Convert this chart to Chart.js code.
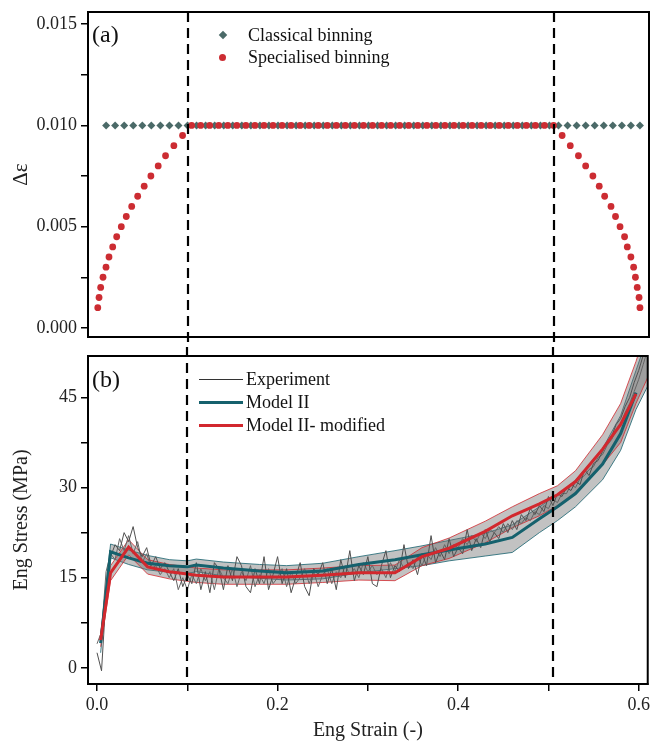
<!DOCTYPE html>
<html>
<head>
<meta charset="utf-8">
<script src="https://cdn.jsdelivr.net/npm/chart.js@4.4.0/dist/chart.umd.min.js"></script>
<style>
  body { margin: 0; background: #fff; }
  #wrap { position: relative; width: 653px; height: 744px; font-family: 'Liberation Serif', 'Times New Roman', serif; color: #111; }
  #chartTop { position: absolute; left: 0; top: 0; }
  #chartBottom { position: absolute; left: 0; top: 347px; }
  .panel { position: absolute; font-size: 24px; line-height: 24px; }
  .leg { position: absolute; font-size: 18px; line-height: 22px; white-space: nowrap; }
  .dia { position: absolute; width: 6px; height: 6px; background: #4b6a68; transform: rotate(45deg); }
  .dot { position: absolute; width: 7px; height: 7px; border-radius: 50%; background: #cc2c32; }
  .ln { position: absolute; width: 44px; }
</style>
</head>
<body>
<div id="wrap">
  <canvas id="chartTop" width="653" height="347"></canvas>
  <canvas id="chartBottom" width="653" height="397"></canvas>

  <div class="panel" style="left:92px; top:22px;">(a)</div>
  <div class="dia" style="left:220px; top:32px;"></div>
  <div class="leg" style="left:248px; top:24px;">Classical binning</div>
  <div class="dot" style="left:219px; top:54px;"></div>
  <div class="leg" style="left:248px; top:46px;">Specialised binning</div>

  <div class="panel" style="left:92px; top:367px;">(b)</div>
  <div class="ln" style="left:199px; top:379px; border-top:1px solid #333;"></div>
  <div class="leg" style="left:246px; top:368px;">Experiment</div>
  <div class="ln" style="left:199px; top:401px; border-top:3px solid #15616d;"></div>
  <div class="leg" style="left:246px; top:391px;">Model II</div>
  <div class="ln" style="left:199px; top:424px; border-top:3px solid #d2282e;"></div>
  <div class="leg" style="left:246px; top:414px;">Model II- modified</div>
</div>

<script>
// panel (a): bin widths
const classicalStrain = [0.01, 0.02, 0.03, 0.04, 0.05, 0.06, 0.07, 0.08, 0.09, 0.10,
  0.11, 0.12, 0.13, 0.14, 0.15, 0.16, 0.17, 0.18, 0.19, 0.20,
  0.21, 0.22, 0.23, 0.24, 0.25, 0.26, 0.27, 0.28, 0.29, 0.30,
  0.31, 0.32, 0.33, 0.34, 0.35, 0.36, 0.37, 0.38, 0.39, 0.40,
  0.41, 0.42, 0.43, 0.44, 0.45, 0.46, 0.47, 0.48, 0.49, 0.50,
  0.51, 0.52, 0.53, 0.54, 0.55, 0.56, 0.57, 0.58, 0.59, 0.60];
const classicalDelta = [0.01, 0.01, 0.01, 0.01, 0.01, 0.01, 0.01, 0.01, 0.01, 0.01,
  0.01, 0.01, 0.01, 0.01, 0.01, 0.01, 0.01, 0.01, 0.01, 0.01,
  0.01, 0.01, 0.01, 0.01, 0.01, 0.01, 0.01, 0.01, 0.01, 0.01,
  0.01, 0.01, 0.01, 0.01, 0.01, 0.01, 0.01, 0.01, 0.01, 0.01,
  0.01, 0.01, 0.01, 0.01, 0.01, 0.01, 0.01, 0.01, 0.01, 0.01,
  0.01, 0.01, 0.01, 0.01, 0.01, 0.01, 0.01, 0.01, 0.01, 0.01];

const specialisedStrain = [0.0008, 0.0022, 0.004, 0.0066, 0.0099, 0.0132, 0.0173, 0.0217, 0.0268,
  0.0323, 0.0383, 0.0449, 0.0521, 0.0595, 0.0676, 0.0757, 0.0849, 0.0945,
  0.1045, 0.1145, 0.1245, 0.1345, 0.1445, 0.1545, 0.1645, 0.1745, 0.1845, 0.1945,
  0.2045, 0.2145, 0.2245, 0.2345, 0.2445, 0.2545, 0.2645, 0.2745, 0.2845, 0.2945,
  0.3045, 0.3145, 0.3245, 0.3345, 0.3445, 0.3545, 0.3645, 0.3745, 0.3845, 0.3945,
  0.4045, 0.4145, 0.4245, 0.4345, 0.4445, 0.4545, 0.4645, 0.4745, 0.4845, 0.4945, 0.5045,
  0.514, 0.523, 0.532, 0.540, 0.548, 0.555, 0.561, 0.568, 0.573,
  0.578, 0.583, 0.586, 0.590, 0.593, 0.595, 0.597, 0.599, 0.600];
const specialisedDelta = [0.001, 0.0015, 0.002, 0.0025, 0.003, 0.0035, 0.004, 0.0045, 0.005,
  0.0055, 0.006, 0.0065, 0.007, 0.0075, 0.008, 0.0085, 0.009, 0.0095,
  0.01, 0.01, 0.01, 0.01, 0.01, 0.01, 0.01, 0.01, 0.01, 0.01,
  0.01, 0.01, 0.01, 0.01, 0.01, 0.01, 0.01, 0.01, 0.01, 0.01,
  0.01, 0.01, 0.01, 0.01, 0.01, 0.01, 0.01, 0.01, 0.01, 0.01,
  0.01, 0.01, 0.01, 0.01, 0.01, 0.01, 0.01, 0.01, 0.01, 0.01, 0.01,
  0.0095, 0.009, 0.0085, 0.008, 0.0075, 0.007, 0.0065, 0.006, 0.0055,
  0.005, 0.0045, 0.004, 0.0035, 0.003, 0.0025, 0.002, 0.0015, 0.001];

// dashed vertical markers (strain)
const markerStrains = [0.1, 0.505];

// panel (b): stress-strain
const expStrain = [0.000, 0.005, 0.010, 0.015, 0.020, 0.025, 0.030, 0.035, 0.040, 0.045,
  0.050, 0.055, 0.060, 0.065, 0.070, 0.075, 0.080, 0.085, 0.090, 0.095,
  0.100, 0.105, 0.110, 0.115, 0.120, 0.125, 0.130, 0.135, 0.140, 0.145,
  0.150, 0.155, 0.160, 0.165, 0.170, 0.175, 0.180, 0.185, 0.190, 0.195,
  0.200, 0.205, 0.210, 0.215, 0.220, 0.225, 0.230, 0.235, 0.240, 0.245,
  0.250, 0.255, 0.260, 0.265, 0.270, 0.275, 0.280, 0.285, 0.290, 0.295,
  0.300, 0.305, 0.310, 0.315, 0.320, 0.325, 0.330, 0.335, 0.340, 0.345,
  0.350, 0.355, 0.360, 0.365, 0.370, 0.375, 0.380, 0.385, 0.390, 0.395,
  0.400, 0.405, 0.410, 0.415, 0.420, 0.425, 0.430, 0.435, 0.440, 0.445,
  0.450, 0.455, 0.460, 0.465, 0.470, 0.475, 0.480, 0.485, 0.490, 0.495,
  0.500, 0.505, 0.510, 0.515, 0.520, 0.525, 0.530, 0.535, 0.540, 0.545,
  0.550, 0.555, 0.560, 0.565, 0.570, 0.575, 0.580, 0.585, 0.590, 0.595,
  0.600, 0.605, 0.610];
const expStressA = [2.5, -0.5, 12, 18.5, 20.5, 19.5, 22.5, 21, 23.5, 20,
  18.5, 20, 17, 18.5, 16.5, 17.5, 16, 14.5, 16.5, 13.5,
  15.5, 14, 17.5, 13, 16, 12.5, 17.5, 16.5, 13, 17,
  14.5, 18.5, 17, 13.5, 12.5, 16.5, 14, 18.5, 13, 15.5,
  18.5, 14, 16.5, 12.5, 15, 17.5, 13.5, 12, 16.5, 15.5,
  17.5, 14, 16.5, 13, 18, 15, 19.5, 14.5, 17, 15.5,
  18.5, 14, 13.5, 17, 19.5, 15, 17, 16, 20.5, 16.5,
  18, 15.5, 19, 17, 22, 17.5, 19.5, 18, 21.5, 18.5,
  20, 19, 23, 19.5, 21.5, 20, 23, 21, 22.5, 21.5,
  24, 22.5, 24.5, 23, 25.5, 24.5, 26.5, 25.5, 27, 26,
  28.5, 27, 29, 28.5, 30, 29.5, 31, 30.5, 33, 32,
  34, 34.5, 36, 37.5, 38.5, 40.5, 41.5, 43.5, 45, 47.5,
  49.5, 52, 54.5];
const expStressB = [4, 6, 16, 19, 18, 21.5, 19.5, 22, 19, 21,
  17.5, 19, 16.5, 17, 15.5, 16.5, 15, 16.5, 13, 15,
  13, 15.5, 14, 16.5, 14.5, 16, 13, 16.5, 15, 14,
  16.5, 13.5, 16, 14.5, 17, 13.5, 15.5, 14, 16.5, 14,
  15, 16.5, 13.5, 16, 14, 15, 16.5, 14, 16, 13.5,
  15.5, 16.5, 14, 16, 15, 17, 15.5, 16.5, 15, 17.5,
  16, 17, 15.5, 16.5, 15, 17.5, 16, 18, 16.5, 17.5,
  16.5, 18.5, 17, 19, 18, 20, 18.5, 20.5, 19, 20.5,
  20, 21.5, 20.5, 22, 21, 22.5, 21.5, 23, 22.5, 23.5,
  22.5, 24, 23, 24.5, 24, 25, 24.5, 26, 25.5, 27,
  26.5, 28, 27.5, 29, 29, 30.5, 30, 31.5, 32, 33,
  33.5, 35, 35.5, 37, 38, 39.5, 40.5, 42.5, 44, 46,
  48, 50.5, 53];

const modelStrain = [0.004, 0.015, 0.035, 0.056, 0.08, 0.1, 0.11, 0.14, 0.18, 0.21, 0.25, 0.29,
  0.33, 0.36, 0.39, 0.43, 0.46, 0.49, 0.51, 0.53, 0.56, 0.58, 0.597];
const modelII = [4.1, 19.3, 18.3, 17.4, 17.0, 16.8, 17.1, 16.6, 16.1, 15.8, 16.1, 17.2,
  18.0, 18.8, 19.6, 20.6, 21.7, 24.8, 26.8, 29.0, 33.9, 39.0, 45.8];
const modelIIMod = [4.6, 15.8, 20.1, 16.8, 16.0, 15.6, 15.4, 15.1, 15.1, 15.1, 15.4, 15.8,
  15.8, 18.5, 19.9, 22.7, 25.3, 27.3, 28.8, 31.0, 36.4, 40.5, 45.6];

const bandStrain = [0.004, 0.015, 0.035, 0.056, 0.08, 0.1, 0.11, 0.14, 0.18, 0.21, 0.25, 0.29,
  0.33, 0.36, 0.39, 0.43, 0.46, 0.49, 0.51, 0.53, 0.56, 0.58, 0.597, 0.612];
const modelIIUpper = [5.5, 20.6, 19.6, 18.7, 18.0, 17.8, 18.1, 17.6, 17.2, 17.0, 17.4, 18.5,
  19.5, 20.3, 21.2, 22.4, 23.8, 26.8, 28.8, 31.2, 36.5, 42.0, 49.5, 56];
const modelIILower = [2.5, 18.3, 17.2, 16.3, 15.9, 15.7, 16.0, 15.3, 14.9, 14.6, 14.8, 15.8,
  16.5, 17.0, 17.8, 18.6, 19.2, 22.5, 24.5, 26.8, 31.3, 36.2, 43.0, 47.5];
const modelIIModUpper = [5.5, 17.0, 21.3, 18.0, 17.2, 16.8, 16.6, 16.3, 16.3, 16.3, 16.6, 17.0,
  17.1, 20.0, 21.6, 24.4, 26.8, 29.0, 30.3, 32.8, 38.8, 44.0, 51.0, 58];
const modelIIModLower = [3.5, 14.5, 18.8, 15.6, 14.8, 14.4, 14.2, 13.9, 13.9, 13.9, 14.2, 14.6,
  14.5, 17.0, 18.2, 20.8, 23.3, 25.3, 27.0, 29.0, 33.8, 37.5, 44.0, 49];

const pts = (xs, ys) => xs.map((x, i) => ({ x, y: ys[i] }));

const serif = 'Liberation Serif';
const tickFont = { family: serif, size: 18 };
const titleFont = { family: serif, size: 20 };

// dashed markers + box frame
const framePlugin = {
  id: 'frame',
  afterDraw(chart, args, opts) {
    const { ctx, chartArea: a, scales } = chart;
    ctx.save();
    ctx.strokeStyle = '#000';
    ctx.lineWidth = 2.2;
    ctx.setLineDash([10, 6]);
    markerStrains.forEach((v) => {
      const px = Math.round(scales.x.getPixelForValue(v));
      ctx.beginPath();
      if (opts.side === 'top') {
        ctx.moveTo(px, a.top);
        ctx.lineTo(px, chart.height);
      } else {
        ctx.moveTo(px, 0);
        ctx.lineTo(px, a.bottom);
      }
      ctx.stroke();
    });
    ctx.setLineDash([]);
    ctx.lineWidth = 2;
    ctx.strokeRect(a.left, a.top, a.right - a.left, a.bottom - a.top);
    ctx.restore();
  },
};

const fitY = (s) => {
  s.width = 88;
  s.paddingTop = 0;
  s.paddingBottom = 0;
};

const xScale = (show) => ({
  type: 'linear',
  min: -0.01,
  max: 0.61,
  display: show,
  afterFit: (s) => { if (show) s.height = 60; },
  border: { color: '#000', width: 2 },
  grid: { drawOnChartArea: false, color: '#000', lineWidth: 1.5, tickLength: 7 },
  ticks: {
    stepSize: 0.1,
    padding: 3,
    color: '#222',
    font: tickFont,
    maxRotation: 0,
    includeBounds: false,
    callback: (v) => (Math.round(v * 10) % 2 === 0 ? v.toFixed(1) : ''),
  },
  title: { display: show, text: 'Eng Strain (-)', color: '#222', font: titleFont, padding: { top: 0, bottom: 1 } },
});

new Chart(document.getElementById('chartTop'), {
  type: 'scatter',
  data: {
    datasets: [
      {
        label: 'Specialised binning',
        data: pts(specialisedStrain, specialisedDelta),
        pointStyle: 'circle',
        pointRadius: 3.4,
        backgroundColor: '#cc2c32',
        borderWidth: 0,
        order: 0,
      },
      {
        label: 'Classical binning',
        data: pts(classicalStrain, classicalDelta),
        pointStyle: 'rectRot',
        pointRadius: 4,
        backgroundColor: '#4b6a68',
        borderWidth: 0,
        order: 1,
      },
    ],
  },
  options: {
    responsive: false,
    animation: false,
    layout: { padding: { left: 0, right: 3, top: 12, bottom: 10 } },
    plugins: { legend: { display: false }, tooltip: { enabled: false }, frame: { side: 'top' } },
    scales: {
      x: xScale(false),
      y: {
        min: -0.00045,
        max: 0.0156,
        afterFit: fitY,
        border: { color: '#000', width: 2 },
        grid: { drawOnChartArea: false, color: '#000', lineWidth: 1.5, tickLength: 7 },
        ticks: {
          stepSize: 0.0025,
          padding: 4,
          color: '#222',
          font: tickFont,
          includeBounds: false,
          callback: (v) => (Math.abs(v / 0.005 - Math.round(v / 0.005)) < 1e-6 ? v.toFixed(3) : ''),
        },
        title: { display: true, text: 'Δε', color: '#222', font: { family: serif, size: 21 }, padding: { top: 9, bottom: 0 } },
      },
    },
  },
  plugins: [framePlugin],
});

const band = (label, xs, ys, edge, fill, order) => ({
  label,
  data: pts(xs, ys),
  borderColor: edge,
  borderWidth: 0.8,
  pointRadius: 0,
  tension: 0,
  fill,
  backgroundColor: 'rgba(110,110,110,0.42)',
  order,
});

new Chart(document.getElementById('chartBottom'), {
  type: 'line',
  data: {
    datasets: [
      {
        label: 'Model II- modified',
        data: pts(modelStrain, modelIIMod),
        borderColor: '#d2282e',
        borderWidth: 3,
        pointRadius: 0,
        tension: 0,
        order: 0,
      },
      {
        label: 'Model II',
        data: pts(modelStrain, modelII),
        borderColor: '#15616d',
        borderWidth: 3,
        pointRadius: 0,
        tension: 0,
        order: 1,
      },
      {
        label: 'Experiment',
        data: pts(expStrain, expStressA),
        borderColor: '#505050',
        borderWidth: 1,
        pointRadius: 0,
        tension: 0,
        order: 2,
      },
      {
        label: 'Experiment B',
        data: pts(expStrain, expStressB),
        borderColor: '#666',
        borderWidth: 1,
        pointRadius: 0,
        tension: 0,
        order: 2,
      },
      band('Model II lower', bandStrain, modelIILower, '#15616d', false, 4),
      band('Model II upper', bandStrain, modelIIUpper, '#15616d', '-1', 4),
      band('Model II- modified lower', bandStrain, modelIIModLower, '#d2282e', false, 3),
      band('Model II- modified upper', bandStrain, modelIIModUpper, '#d2282e', '-1', 3),
    ],
  },
  options: {
    responsive: false,
    animation: false,
    layout: { padding: { left: 0, right: 3, top: 9, bottom: 0 } },
    plugins: { legend: { display: false }, tooltip: { enabled: false }, frame: { side: 'bottom' } },
    scales: {
      x: xScale(true),
      y: {
        min: -2.7,
        max: 51.9,
        afterFit: fitY,
        border: { color: '#000', width: 2 },
        grid: { drawOnChartArea: false, color: '#000', lineWidth: 1.5, tickLength: 7 },
        ticks: {
          stepSize: 7.5,
          padding: 4,
          color: '#222',
          font: tickFont,
          includeBounds: false,
          callback: (v) => (Math.abs(v / 15 - Math.round(v / 15)) < 1e-6 ? String(Math.round(v)) : ''),
        },
        title: { display: true, text: 'Eng Stress (MPa)', color: '#222', font: titleFont, padding: { top: 10, bottom: 0 } },
      },
    },
  },
  plugins: [framePlugin],
});
</script>
</body>
</html>
